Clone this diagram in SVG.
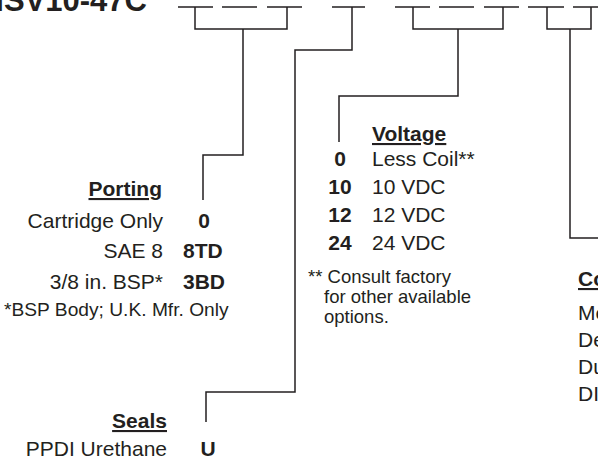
<svg xmlns="http://www.w3.org/2000/svg" width="598" height="460" viewBox="0 0 598 460">
<style>
text{font-family:"Liberation Sans",Arial,sans-serif;fill:#231f20}
.t{font-size:21px}
.b{font-size:21px;font-weight:bold}
.h{font-size:21px;font-weight:bold;text-decoration:underline}
.n{font-size:18.5px}
.title{font-size:31px;font-weight:bold}
.ln{fill:none;stroke:#231f20;stroke-width:1.5}
</style>
<rect width="598" height="460" fill="#ffffff"/>
<text class="title" x="147" y="11" text-anchor="end">HSV10-47C</text>
<g id="connectors" class="ln">
<path d="M178,7H213M222,7H257M267,7H302M332,7H365M395,7H430M439,7H474M484,7H519M528,7H564M573,7H608"/>
<path d="M195,7V29H287V7M243,29V155H203V200"/>
<path d="M352,7V50H295V392H206V422"/>
<path d="M413,7V29H503V7M458,29V96H339V142"/>
<path d="M547,7V29H591V7M570,29V238H600"/>
</g>
<g id="porting">
<text class="h" x="162" y="196" text-anchor="end">Porting</text>
<text class="t" x="163" y="228" text-anchor="end">Cartridge Only</text>
<text class="t" x="163" y="258" text-anchor="end">SAE 8</text>
<text class="t" x="163" y="289" text-anchor="end">3/8 in. BSP*</text>
<text class="b" x="204" y="228" text-anchor="middle">0</text>
<text class="b" x="183" y="258">8TD</text>
<text class="b" x="183" y="289">3BD</text>
<text class="n" x="4" y="316" style="font-size:19.2px">*BSP Body; U.K. Mfr. Only</text>
</g>
<g id="voltage">
<text class="h" x="372" y="141">Voltage</text>
<text class="b" x="340" y="166" text-anchor="middle">0</text>
<text class="t" x="372" y="166">Less Coil**</text>
<text class="b" x="340" y="194" text-anchor="middle">10</text>
<text class="t" x="372" y="194">10 VDC</text>
<text class="b" x="340" y="222" text-anchor="middle">12</text>
<text class="t" x="372" y="222">12 VDC</text>
<text class="b" x="340" y="250" text-anchor="middle">24</text>
<text class="t" x="372" y="250">24 VDC</text>
<text class="n" x="308" y="283">** Consult factory</text>
<text class="n" x="324" y="303">for other available</text>
<text class="n" x="324" y="323">options.</text>
</g>
<g id="coil">
<text class="h" x="578" y="286">Co</text>
<text class="t" x="578" y="320">Me</text>
<text class="t" x="578" y="347">De</text>
<text class="t" x="578" y="374">Du</text>
<text class="t" x="578" y="401">DI</text>
</g>
<g id="seals">
<text class="h" x="167" y="428" text-anchor="end">Seals</text>
<text class="t" x="167" y="456" text-anchor="end">PPDI Urethane</text>
<text class="b" x="208" y="456" text-anchor="middle">U</text>
</g>
</svg>
